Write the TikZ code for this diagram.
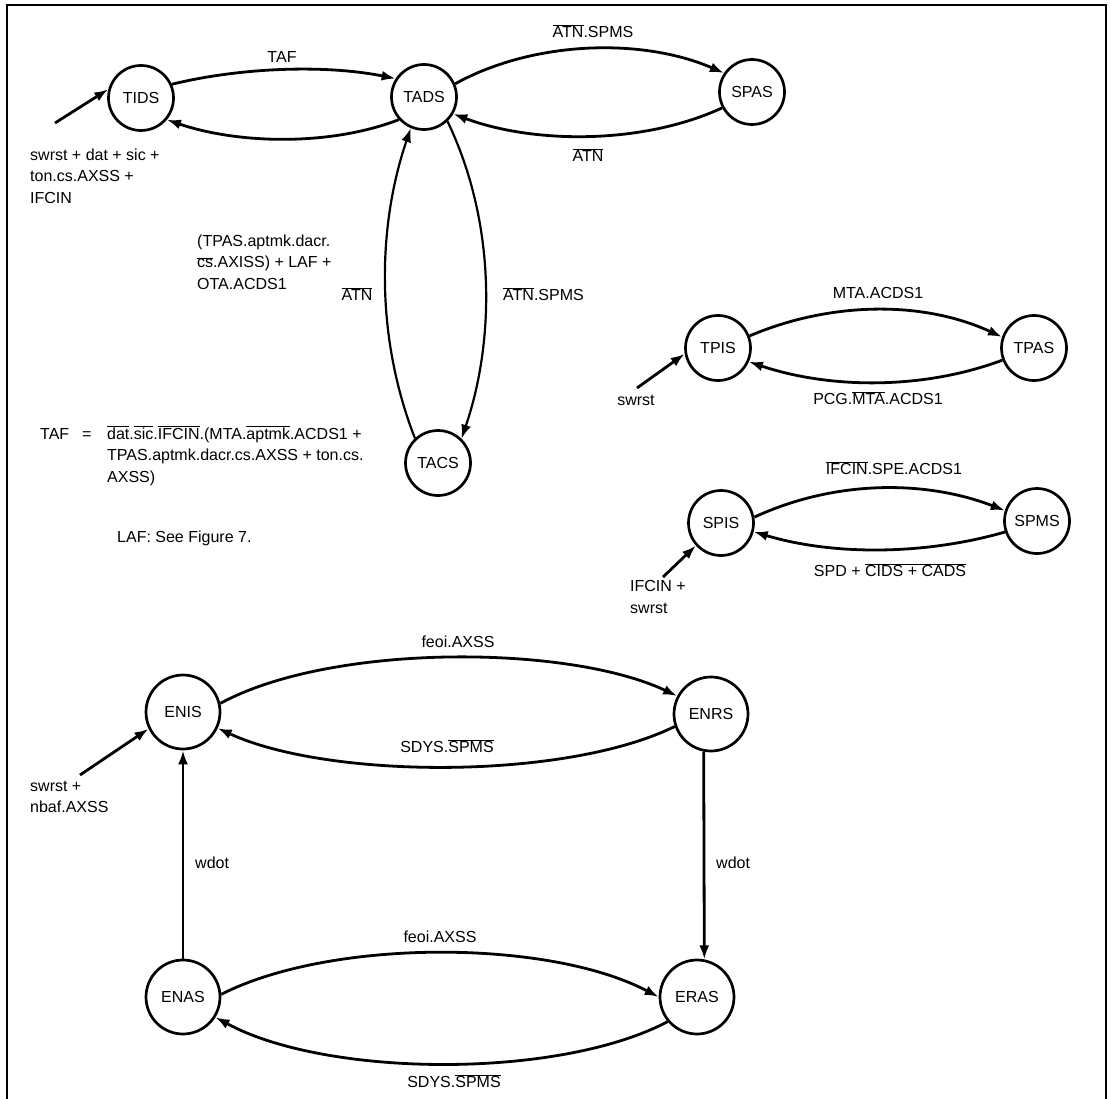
\documentclass[tikz,border=0pt]{standalone}
\usepackage{fontspec}
\setmainfont{Liberation Sans}
\usetikzlibrary{arrows.meta}
\newcommand\ovl[1]{$\overline{\mbox{#1}}$}
\begin{document}
\begin{tikzpicture}[x=1pt,y=-1pt,
  every node/.style={font=\fontsize{16}{21.5}\selectfont},
  state/.style={draw, circle, line width=2.7pt, minimum size=65pt, inner sep=0pt},
  bigstate/.style={state, minimum size=74pt},
  edge/.style={line width=2.8pt, -{Latex[length=14pt,width=10pt]}},
  thinedge/.style={edge, line width=2.2pt},
  lbl/.style={inner sep=0pt},
  lblw/.style={inner sep=0pt, anchor=west, align=left},
]
\useasboundingbox (0,0) rectangle (1111,1099);
\draw[line width=2.2pt] (7,1099) -- (7,5) -- (1106,5) -- (1106,1099);

% states
\node[state] (TIDS) at (141,98) {TIDS};
\node[state] (TADS) at (424,97) {TADS};
\node[state] (SPAS) at (752,92) {SPAS};
\node[state] (TACS) at (438,463) {TACS};
\node[state] (TPIS) at (718,348) {TPIS};
\node[state] (TPAS) at (1034,348) {TPAS};
\node[state] (SPIS) at (721,523) {SPIS};
\node[state] (SPMS) at (1037,521) {SPMS};
\node[bigstate] (ENIS) at (183,712) {ENIS};
\node[bigstate] (ENRS) at (711,714) {ENRS};
\node[bigstate] (ENAS) at (183,997) {ENAS};
\node[bigstate] (ERAS) at (697,997) {ERAS};

% free ends
\coordinate (inTIDS) at (55,123);
\coordinate (inTPIS) at (637,388);
\coordinate (inSPIS) at (663,577);
\coordinate (inENIS) at (80,775);

% top group
\draw[edge] (TIDS.24) .. controls +(70,-17) and +(-70,-14) .. (TADS.147);
\draw[edge] (TADS.222) .. controls +(-70,27) and +(70,24) .. (TIDS.320);
\draw[edge] (TADS.23) .. controls +(80,-44) and +(-80,-35) .. (SPAS.146);
\draw[edge] (SPAS.208) .. controls +(-80,37) and +(80,30) .. (TADS.330);
\draw[thinedge] (TACS.133) .. controls +(-39,-100) and +(-34,100) .. (TADS.247);
\draw[thinedge] (TADS.314) .. controls +(48,100) and +(34,-100) .. (TACS.46);
\draw[edge] (inTIDS) -- (TIDS.165);

% TPIS / TPAS
\draw[edge] (TPIS.21) .. controls +(80,-34) and +(-80,-37) .. (TPAS.161);
\draw[edge] (TPAS.201) .. controls +(-80,30) and +(80,27) .. (TPIS.336);
\draw[edge] (inTPIS) -- (TPIS.190);

% SPIS / SPMS
\draw[edge] (SPIS.10) .. controls +(80,-37) and +(-80,-31) .. (SPMS.162);
\draw[edge] (SPMS.199) .. controls +(-80,23) and +(80,24) .. (SPIS.345);
\draw[edge] (inSPIS) -- (SPIS.222);

% E group
\draw[edge] (ENIS.13) .. controls +(110,-60) and +(-110,-52) .. (ENRS.152);
\draw[edge] (ENRS.199) .. controls +(-110,54) and +(110,51) .. (ENIS.335);
\draw[edge] (inENIS) -- (ENIS.206);
\draw[edge] (ENAS.north) -- (ENIS.south);
\draw[edge] (ENRS.259) -- (ERAS.79);
\draw[edge] (ENAS.4) .. controls +(110,-56) and +(-110,-58) .. (ERAS.180);
\draw[edge] (ERAS.220) .. controls +(-110,58) and +(110,60) .. (ENAS.328);

% labels top
\node[lbl] (lTAF) at (282,57) {TAF};
\node[lbl] (lATNSPMSa) at (593,31) {\ovl{ATN}.SPMS};
\node[lbl] (lATNa) at (588,155) {\ovl{ATN}};
\node[lbl] (lATNb) at (357,294) {\ovl{ATN}};
\node[lbl, anchor=west] (lATNSPMSb) at (503,294) {\ovl{ATN}.SPMS};
\node[lblw] (lin1) at (30,176) {swrst + dat + sic +\\ton.cs.AXSS +\\IFCIN};
\node[lblw] (lret) at (197,262) {(TPAS.aptmk.dacr.\\\ovl{cs}.AXISS) + LAF +\\OTA.ACDS1};

% formula
\node[lbl, anchor=base west] (fTAF) at (40,439) {TAF};
\node[lbl, anchor=base west] (fEq) at (82,439) {=};
\node[lbl, anchor=base west] (fL1) at (107,439) {\ovl{dat}.\ovl{sic}.\ovl{IFCIN}.(MTA.\ovl{aptmk}.ACDS1 +};
\node[lbl, anchor=base west] (fL2) at (107,460) {TPAS.aptmk.dacr.cs.AXSS + ton.cs.};
\node[lbl, anchor=base west] (fL3) at (107,482) {AXSS)};
\node[lbl, anchor=base west] (fLAF) at (117,542) {LAF: See Figure 7.};

% TPIS labels
\node[lbl] (lMTA) at (878,293) {MTA.ACDS1};
\node[lbl] (lPCG) at (878,398) {PCG.\ovl{MTA}.ACDS1};
\node[lbl] (lswrst) at (636,400) {swrst};

% SPIS labels
\node[lbl] (lIFCIN) at (894,468) {\ovl{IFCIN}.SPE.ACDS1};
\node[lbl] (lSPD) at (890,570) {SPD + \ovl{CIDS + CADS}};
\node[lblw] (linSPIS) at (630,597) {IFCIN +\\swrst};

% E labels
\node[lbl] (lfeoiA) at (458,642) {feoi.AXSS};
\node[lbl] (lSDYSA) at (447,746) {SDYS.\ovl{SPMS}};
\node[lblw] (linENIS) at (30,797) {swrst +\\nbaf.AXSS};
\node[lbl, anchor=west] (lwdotA) at (195,863) {wdot};
\node[lbl, anchor=west] (lwdotB) at (716,863) {wdot};
\node[lbl] (lfeoiB) at (440,937) {feoi.AXSS};
\node[lbl] (lSDYSB) at (454,1081) {SDYS.\ovl{SPMS}};
\end{tikzpicture}
\end{document}
